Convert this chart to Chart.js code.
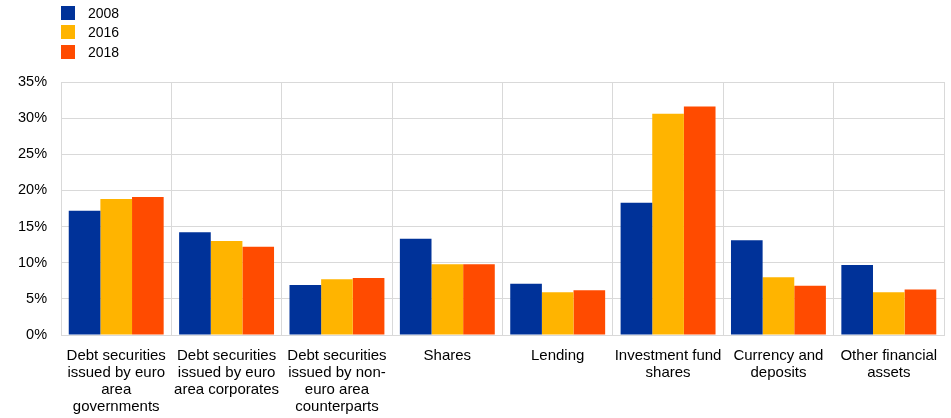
<!DOCTYPE html>
<html>
<head>
<meta charset="utf-8">
<script src="https://cdn.jsdelivr.net/npm/chart.js@4"></script>
<style>
    html, body { margin: 0; padding: 0; background: #fff; }
    #wrap { position: relative; width: 951px; height: 418px; }
    #legend { position: absolute; left: 61px; top: 3px; font: 14px "Liberation Sans", Arial, sans-serif; color: #000; }
    #legend div { height: 19.5px; display: flex; align-items: center; }
    #legend span.box { display: inline-block; width: 14px; height: 14px; margin-right: 13px; }
</style>
</head>
<body>
<div id="wrap">
    <canvas id="chart" width="951" height="418"></canvas>
    <div id="legend"></div>
</div>
<script>
const categories = [
    ['Debt securities', 'issued by euro', 'area', 'governments'],
    ['Debt securities', 'issued by euro', 'area corporates'],
    ['Debt securities', 'issued by non-', 'euro area', 'counterparts'],
    'Shares',
    'Lending',
    ['Investment fund', 'shares'],
    ['Currency and', 'deposits'],
    ['Other financial', 'assets'],
];

const seriesNames = ['2008', '2016', '2018'];
const seriesColors = ['#003299', '#ffb400', '#ff4b00'];

const values2008 = [17.2, 14.2, 6.9, 13.3, 7.1, 18.3, 13.1, 9.7];
const values2016 = [18.8, 13.0, 7.7, 9.8, 5.9, 30.6, 8.0, 5.9];
const values2018 = [19.1, 12.2, 7.9, 9.8, 6.2, 31.6, 6.8, 6.3];

const yTicks = [0, 5, 10, 15, 20, 25, 30, 35];

const seriesValues = [values2008, values2016, values2018];

const legend = document.getElementById('legend');
seriesNames.forEach((name, i) => {
    const row = document.createElement('div');
    row.innerHTML = `<span class="box" style="background:${seriesColors[i]}"></span>${name}`;
    legend.appendChild(row);
});

const fontFamily = '"Liberation Sans", Arial, sans-serif';

new Chart(document.getElementById('chart'), {
    type: 'bar',
    data: {
        labels: categories,
        datasets: seriesNames.map((name, i) => ({
            label: name,
            data: seriesValues[i],
            backgroundColor: seriesColors[i],
            borderWidth: 0,
            barPercentage: 1,
            categoryPercentage: 0.86,
        })),
    },
    options: {
        responsive: false,
        animation: false,
        layout: {
            padding: { top: 82, left: 4, right: 7, bottom: 0 },
        },
        plugins: {
            legend: { display: false },
            tooltip: { enabled: false },
        },
        scales: {
            x: {
                afterFit(axis) {
                    axis.height = 83;
                },
                grid: {
                    offset: true,
                    color: '#d9d9d9',
                    drawTicks: false,
                },
                border: { color: '#d9d9d9' },
                ticks: {
                    color: '#000',
                    font: { family: fontFamily, size: 15, lineHeight: 1.14 },
                    maxRotation: 0,
                    autoSkip: false,
                    padding: 12,
                },
            },
            y: {
                min: 0,
                max: 35,
                afterBuildTicks(axis) {
                    axis.ticks = yTicks.map((v) => ({ value: v }));
                },
                grid: {
                    color: '#d9d9d9',
                    drawTicks: false,
                },
                border: { color: '#d9d9d9' },
                ticks: {
                    color: '#000',
                    font: { family: fontFamily, size: 14.5 },
                    padding: 14,
                    callback(value) {
                        return `${value}%`;
                    },
                },
            },
        },
    },
});
</script>
</body>
</html>
